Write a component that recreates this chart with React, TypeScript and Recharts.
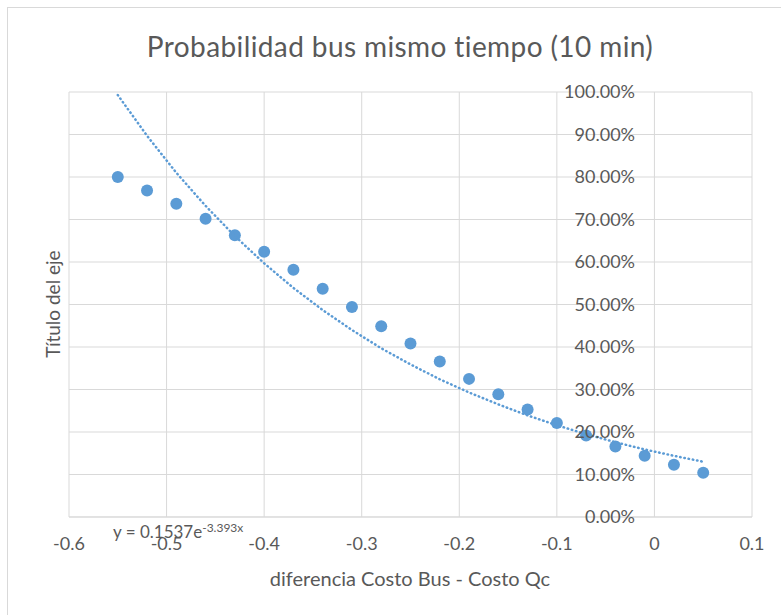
import { ScatterChart, Scatter, XAxis, YAxis, CartesianGrid } from 'recharts';

// diferencia de costo (eje x)
const xValues = [
  -0.55, -0.52, -0.49, -0.46, -0.43, -0.4, -0.37, -0.34, -0.31, -0.28, -0.25,
  -0.22, -0.19, -0.16, -0.13, -0.1, -0.07, -0.04, -0.01, 0.02, 0.05,
];
// probabilidad observada
const probValues = [
  0.8, 0.768, 0.737, 0.702, 0.663, 0.624, 0.582, 0.537, 0.494, 0.449, 0.408,
  0.366, 0.325, 0.289, 0.253, 0.221, 0.192, 0.166, 0.144, 0.123, 0.104,
];
// línea de tendencia exponencial (y = 0.1537e^-3.393x)
const trendValues = [
  0.993, 0.897, 0.81, 0.732, 0.661, 0.597, 0.539, 0.487, 0.44, 0.397, 0.359,
  0.324, 0.293, 0.265, 0.239, 0.216, 0.195, 0.176, 0.159, 0.144, 0.13,
];
const xTicks = [-0.6, -0.5, -0.4, -0.3, -0.2, -0.1, 0, 0.1];
const yTicks = [0, 0.1, 0.2, 0.3, 0.4, 0.5, 0.6, 0.7, 0.8, 0.9, 1];

const points = xValues.map((x, i) => ({ x, y: probValues[i] }));
const trend = xValues.map((x, i) => ({ x, y: trendValues[i] }));

const BLUE = '#5B9BD5';
const TEXT = '#595959';
const GRID = '#d9d9d9';
const FONT = 'Lato, "Open Sans", sans-serif';
const Y_LABEL_RIGHT = 635;

const YTick = (props: any) => {
  const { y, payload } = props;
  return (
    <text
      x={Y_LABEL_RIGHT}
      y={y}
      dy="0.35em"
      textAnchor="end"
      fill={TEXT}
      fontSize={18}
      fontFamily={FONT}
    >
      {(payload.value * 100).toFixed(2) + '%'}
    </text>
  );
};

const Dot = (props: any) => (
  <circle cx={props.cx} cy={props.cy} r={6} fill={BLUE} />
);

export default function App() {
  return (
    <div
      style={{
        position: 'absolute',
        left: 0,
        top: 0,
        width: 781,
        height: 615,
        background: '#fff',
        overflow: 'hidden',
        fontFamily: FONT,
        color: TEXT,
      }}
    >
      <div
        style={{
          position: 'absolute',
          left: 7,
          top: 7,
          width: 800,
          height: 700,
          border: `1px solid ${GRID}`,
        }}
      />
      <div
        style={{
          position: 'absolute',
          left: 0,
          width: 800,
          top: 28,
          textAlign: 'center',
          fontSize: 28,
          letterSpacing: 0.4,
          lineHeight: '36px',
        }}
      >
        Probabilidad bus mismo tiempo (10 min)
      </div>
      <div style={{ position: 'absolute', left: 0, top: 0 }}>
        <ScatterChart
          width={781}
          height={615}
          margin={{ top: 92, right: 29, left: 9, bottom: 58 }}
          style={{ fontFamily: FONT }}
        >
          <CartesianGrid stroke={GRID} strokeWidth={1} />
          <XAxis
            type="number"
            dataKey="x"
            domain={[-0.6, 0.1]}
            ticks={xTicks}
            tickFormatter={(v: number) => String(Math.round(v * 10) / 10)}
            axisLine={{ stroke: GRID }}
            tickLine={false}
            tickMargin={14}
            height={40}
            tick={{ fill: TEXT, fontSize: 18 }}
            allowDataOverflow
          />
          <YAxis
            type="number"
            dataKey="y"
            domain={[0, 1]}
            ticks={yTicks}
            width={60}
            axisLine={false}
            tickLine={false}
            tick={<YTick />}
          />
          <Scatter
            data={points}
            fill={BLUE}
            shape={<Dot />}
            isAnimationActive={false}
          />
          <Scatter
            data={trend}
            shape={() => <g />}
            line={{
              stroke: BLUE,
              strokeWidth: 2.5,
              strokeDasharray: '0.5 3.8',
              strokeLinecap: 'round',
            }}
            lineType="joint"
            isAnimationActive={false}
          />
        </ScatterChart>
      </div>
      <div
        style={{
          position: 'absolute',
          left: 113,
          top: 518,
          fontSize: 17,
          lineHeight: '20px',
          whiteSpace: 'nowrap',
        }}
      >
        y = 0.1537e
        <sup style={{ fontSize: 12, verticalAlign: 6 }}>-3.393x</sup>
      </div>
      <div
        style={{
          position: 'absolute',
          left: 0,
          width: 820,
          top: 565,
          textAlign: 'center',
          fontSize: 20,
          lineHeight: '26px',
        }}
      >
        diferencia Costo Bus - Costo Qc
      </div>
      <div
        style={{
          position: 'absolute',
          left: 53,
          top: 304,
          fontSize: 19,
          lineHeight: '24px',
          whiteSpace: 'nowrap',
          transform: 'translate(-50%, -50%) rotate(-90deg)',
        }}
      >
        Título del eje
      </div>
    </div>
  );
}
